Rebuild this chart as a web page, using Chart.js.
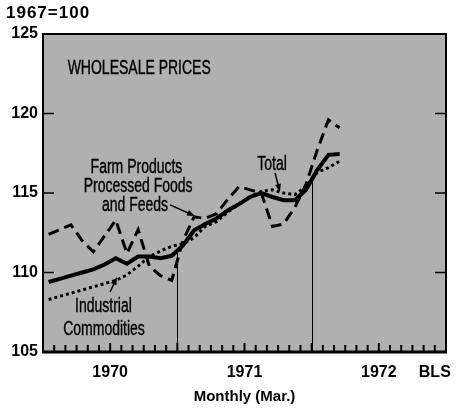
<!DOCTYPE html>
<html>
<head>
<meta charset="utf-8">
<script src="https://cdn.jsdelivr.net/npm/chart.js@4.4.0/dist/chart.umd.min.js"></script>
<style>
  html, body { margin: 0; padding: 0; background: #fff; }
  #grafico { display: block; }
</style>
</head>
<body>
<canvas id="grafico" width="465" height="408"></canvas>
<script>
// Precios mayoristas, 1967 = 100, mensual ene 1970 - mar 1972
const total = [109.4, 109.6, 109.8, 110.0, 110.2, 110.5, 110.9, 110.55, 111.0, 111.0, 110.9, 111.05,
  111.7, 112.65, 113.05, 113.4, 113.9, 114.3, 114.75, 115.0, 114.75, 114.55, 114.55, 115.2,
  116.45, 117.4, 117.45];
const farmProducts = [112.4, 112.7, 113.0, 112.0, 111.3, 112.3, 113.3, 111.2, 112.7, 110.4, 109.8, 109.5,
  112.0, 113.5, 113.4, 113.7, 114.6, 115.4, 115.2, 115.0, 112.9, 113.05, 114.1, 115.55,
  117.7, 119.6, 119.1];
const industrial = [108.3, 108.5, 108.7, 108.9, 109.1, 109.3, 109.5, 109.85, 110.4, 111.0, 111.35, 111.65,
  111.8, 112.2, 112.9, 113.2, 113.8, 114.3, 114.75, 115.1, 115.2, 115.0, 114.9, 115.4,
  116.3, 116.6, 117.0];

const yearLabels = ['1970', '1971', '1972'];
const yearStarts = [0, 12, 24];
const yTicks = [105, 110, 115, 120, 125];
const innerYTicks = [110, 115, 120];

// textos y flechas, en coordenadas de datos (mes, indice)
const textos = [
  { t: 'WHOLESALE PRICES', x: 2.2, y: 122.5, align: 'left' },
  { t: 'Farm Products', x: 8.35, y: 116.26 },
  { t: 'Processed Foods', x: 8.5, y: 115.06 },
  { t: 'and Feeds', x: 8.22, y: 113.87 },
  { t: 'Total', x: 20.46, y: 116.45 },
  { t: 'Industrial', x: 5.4, y: 107.52 },
  { t: 'Commodities', x: 5.45, y: 106.07 }
];
const flechas = [
  { x1: 11.35, y1: 114.25, x2: 13.58, y2: 113.55 },
  { x1: 20.73, y1: 116.26, x2: 21.17, y2: 115.06 },
  { x1: 5.99, y1: 108.77, x2: 6.61, y2: 109.72 }
];

const aPuntos = arr => arr.map((v, i) => ({ x: i + 0.5, y: v }));

function textoAngosto(ctx, txt, x, y, align) {
  const k = 0.7;
  ctx.save();
  ctx.font = '20px "Liberation Sans"';
  const w = ctx.measureText(txt).width * k;
  const left = align === 'left' ? x : x - w / 2;
  ctx.translate(left, y);
  ctx.scale(k, 1);
  ctx.fillStyle = '#000';
  ctx.strokeStyle = '#000';
  ctx.lineWidth = 0.4;
  ctx.textAlign = 'left';
  ctx.textBaseline = 'alphabetic';
  ctx.fillText(txt, 0, 0);
  ctx.strokeText(txt, 0, 0);
  ctx.restore();
}

const decoracion = {
  id: 'decoracion',
  beforeDraw(chart) {
    const { ctx, chartArea: a } = chart;
    ctx.save();
    ctx.fillStyle = '#b0b0b0';
    ctx.fillRect(a.left, a.top, a.right - a.left, a.bottom - a.top);
    ctx.restore();
  },
  beforeDatasetsDraw(chart) {
    const { ctx, chartArea: a, scales: { x, y } } = chart;
    ctx.save();
    ctx.strokeStyle = '#000';
    ctx.lineWidth = 1;
    yearStarts.slice(1).forEach(m => {
      const v = (total[m - 1] + total[m]) / 2;
      const px = Math.round(x.getPixelForValue(m)) + 0.5;
      ctx.beginPath();
      ctx.moveTo(px, y.getPixelForValue(v));
      ctx.lineTo(px, a.bottom);
      ctx.stroke();
    });
    ctx.restore();
  },
  afterDatasetsDraw(chart) {
    const { ctx, chartArea: a, scales: { x, y } } = chart;
    ctx.save();
    ctx.strokeStyle = '#000';
    // marcas mensuales
    ctx.lineWidth = 2;
    for (let m = 1; m < 36; m++) {
      const px = x.getPixelForValue(m);
      ctx.beginPath();
      ctx.moveTo(px, a.bottom);
      ctx.lineTo(px, a.bottom - (m % 6 === 0 ? 9 : 7));
      ctx.stroke();
    }
    ctx.lineWidth = 1.5;
    innerYTicks.forEach(v => {
      const py = y.getPixelForValue(v);
      ctx.beginPath();
      ctx.moveTo(a.left, py); ctx.lineTo(a.left + 11, py);
      ctx.moveTo(a.right, py); ctx.lineTo(a.right - 11, py);
      ctx.stroke();
    });
    // marco
    ctx.lineWidth = 2;
    ctx.strokeRect(a.left, a.top, a.right - a.left, a.bottom - a.top);
    ctx.lineWidth = 3;
    ctx.beginPath();
    ctx.moveTo(a.left - 1, a.bottom);
    ctx.lineTo(a.right + 1, a.bottom);
    ctx.stroke();

    textos.forEach(t => textoAngosto(ctx, t.t, x.getPixelForValue(t.x), y.getPixelForValue(t.y), t.align));

    ctx.lineWidth = 1.5;
    ctx.fillStyle = '#000';
    flechas.forEach(f => {
      const x1 = x.getPixelForValue(f.x1), y1 = y.getPixelForValue(f.y1);
      const x2 = x.getPixelForValue(f.x2), y2 = y.getPixelForValue(f.y2);
      const ang = Math.atan2(y2 - y1, x2 - x1);
      ctx.beginPath();
      ctx.moveTo(x1, y1);
      ctx.lineTo(x2 - 5 * Math.cos(ang), y2 - 5 * Math.sin(ang));
      ctx.stroke();
      ctx.beginPath();
      ctx.moveTo(x2, y2);
      ctx.lineTo(x2 - 8 * Math.cos(ang) + 3 * Math.sin(ang), y2 - 8 * Math.sin(ang) - 3 * Math.cos(ang));
      ctx.lineTo(x2 - 8 * Math.cos(ang) - 3 * Math.sin(ang), y2 - 8 * Math.sin(ang) + 3 * Math.cos(ang));
      ctx.closePath();
      ctx.fill();
    });
    ctx.restore();
  },
  afterDraw(chart) {
    const { ctx } = chart;
    ctx.save();
    ctx.font = 'bold 17px "Liberation Sans"';
    ctx.letterSpacing = '1px';
    ctx.fillStyle = '#000';
    ctx.textBaseline = 'middle';
    ctx.fillText('1967=100', 6, 13);
    ctx.restore();
  }
};

const ctx = document.getElementById('grafico').getContext('2d');
new Chart(ctx, {
  type: 'line',
  data: {
    datasets: [
      {
        label: 'Farm Products, Processed Foods and Feeds',
        data: aPuntos(farmProducts),
        borderColor: '#000',
        borderWidth: 3,
        borderDash: [11, 6],
        pointRadius: 0,
        tension: 0
      },
      {
        label: 'Industrial Commodities',
        data: aPuntos(industrial),
        borderColor: '#000',
        borderWidth: 3,
        borderDash: [3, 3],
        pointRadius: 0,
        tension: 0
      },
      {
        label: 'Total',
        data: aPuntos(total),
        borderColor: '#000',
        borderWidth: 4,
        pointRadius: 0,
        tension: 0
      }
    ]
  },
  options: {
    responsive: false,
    animation: false,
    devicePixelRatio: 1,
    layout: { padding: { top: 34, right: 19, left: 0, bottom: 0 } },
    plugins: {
      legend: { display: false },
      tooltip: { enabled: false }
    },
    scales: {
      x: {
        type: 'linear',
        min: 0,
        max: 36,
        grid: { display: false, drawTicks: false },
        border: { display: false },
        afterBuildTicks: s => {
          s.ticks = yearStarts.map(v => ({ value: v + 6 })).concat([{ value: 35 }]);
        },
        afterFit: s => { s.height = 56; },
        ticks: {
          autoSkip: false,
          maxRotation: 0,
          padding: 11,
          color: '#000',
          font: { family: 'Liberation Sans', size: 16, weight: 'bold' },
          callback: v => {
            const i = yearStarts.indexOf(v - 6);
            return i >= 0 ? yearLabels[i] : 'BLS';
          }
        },
        title: {
          display: true,
          text: 'Monthly (Mar.)',
          color: '#000',
          font: { family: 'Liberation Sans', size: 15, weight: 'bold' },
          padding: { top: 0, bottom: 2 }
        }
      },
      y: {
        min: 105,
        max: 125,
        grid: { display: false, drawTicks: false },
        border: { display: false },
        afterBuildTicks: s => { s.ticks = yTicks.map(v => ({ value: v })); },
        afterFit: s => { s.width = 43; },
        ticks: {
          padding: 5,
          color: '#000',
          font: { family: 'Liberation Sans', size: 16, weight: 'bold' }
        }
      }
    }
  },
  plugins: [decoracion]
});
</script>
</body>
</html>
